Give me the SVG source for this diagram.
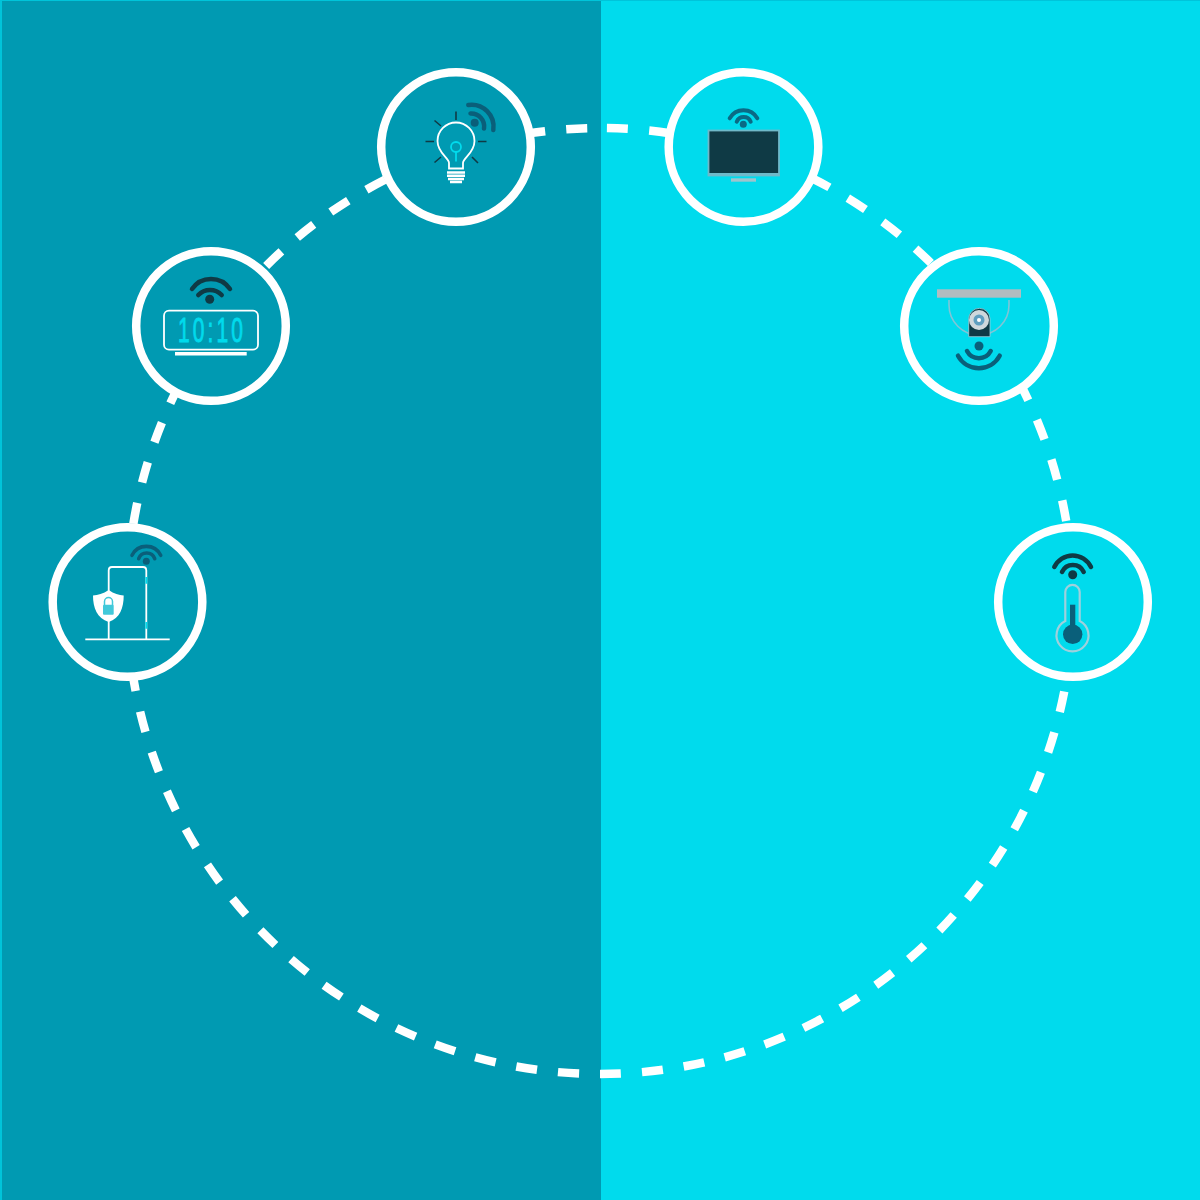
<svg xmlns="http://www.w3.org/2000/svg" width="1200" height="1200" viewBox="0 0 1200 1200">
<style>
.ring{stroke:#fff;stroke-width:8.500}
.l{fill:#009ab2}.r{fill:#00dbed}
.dash{fill:none;stroke:#fff;stroke-width:8.500}
.w{fill:none;stroke-linecap:round;stroke-width:4.500}
.wl{fill:none;stroke:#fff;stroke-width:1.800}
.ray{stroke:#0f3a45;stroke-width:1.600;fill:none}
</style>
<rect x="0" y="0" width="601" height="1200" fill="#009ab2"/>
<rect x="601" y="0" width="599" height="1200" fill="#00dbed"/>
<rect x="0" y="0" width="1200" height="1" fill="#00c4da"/>
<rect x="0" y="0" width="2" height="1200" fill="#00c4da"/>
<g id="connectors">
<path class="dash" d="M600 128A473 473 0 0 1 1073 601" stroke-dasharray="21 21.3" stroke-dashoffset="-7"/>
<path class="dash" d="M600 1074A473 473 0 0 0 1073 601" stroke-dasharray="21 21.05"/>
<path class="dash" d="M600 1074A473 473 0 0 1 600 128" stroke-dasharray="21 21.08" stroke-dashoffset="21"/>
</g>
<g id="node-bulb">
<circle class="ring l" cx="456" cy="147" r="74.800"/>
<path class="wl" d="M449 168.500V163C449 158 437.500 153 437.500 141A18.500 18.500 0 0 1 474.500 141C474.500 153 463 158 463 163V168.500Z"/>
<path stroke="#fff" stroke-width="2.500" d="M447 172.500H465M447 175.800H465M448 179H464M450 182H462"/>
<circle cx="456" cy="147" r="5" fill="none" stroke="#00dbed" stroke-width="1.800"/>
<path d="M456 152V161.500" stroke="#00dbed" stroke-width="1.800"/>
<path class="ray" d="M456 111.500V120M434.500 120.500L441 126M425.500 141.500H434M434.500 162.500L441 157M478 141.500H486.500M472 157L478 163"/>
<path class="w" stroke="#0a5f7a" d="M470.500 113.500A13 13 0 0 1 484 128.500M468.300 105A22 22 0 0 1 493.300 130"/>
<circle cx="474.700" cy="122.700" r="4" fill="#0a5f7a"/>
</g>
<g id="node-tv">
<circle class="ring r" cx="743.500" cy="147" r="74.800"/>
<rect x="708.500" y="130.500" width="70.500" height="45" fill="#0f3a45" stroke="#6fb9c9" stroke-width="1.800"/>
<rect x="708" y="173" width="71.500" height="3" fill="#6fb9c9"/>
<rect x="731" y="178.300" width="25" height="3.400" fill="#9fc4cc"/>
<circle cx="743.300" cy="124.300" r="3.500" fill="#0a6a85"/>
<path class="w" stroke="#0a6a85" style="stroke-width:4" d="M736.700 121.700A7.600 7.600 0 0 1 750.700 121.700M729.700 118.300A15.900 15.900 0 0 1 757.300 118.300"/>
</g>
<g id="node-clock">
<circle class="ring l" cx="211" cy="326" r="74.800"/>
<rect x="164" y="310.700" width="94" height="39" rx="5" fill="none" stroke="#fff" stroke-width="1.800"/>
<rect x="175" y="352" width="71.700" height="3.500" fill="#fff"/>
<text transform="translate(210.500 342.300) scale(0.6 1)" x="0" y="0" font-family="Liberation Sans, sans-serif" font-size="35" fill="#00dbed" stroke="#00dbed" stroke-width="0.900" text-anchor="middle" textLength="108" lengthAdjust="spacing">10:10</text>
<circle cx="209.700" cy="299.300" r="4.500" fill="#0f3a45"/>
<path class="w" stroke="#0f3a45" d="M198.300 295A16 16 0 0 1 221.700 295M192 289A23 23 0 0 1 230 289"/>
</g>
<g id="node-camera">
<circle class="ring r" cx="979" cy="326" r="74.800"/>
<path d="M949 300V305A30 30 0 0 0 1009 305V300" fill="none" stroke="#7fc5d6" stroke-width="1.600"/>
<rect x="937" y="289.300" width="84" height="8.400" fill="#b3bcc0"/>
<path d="M968.700 336.700V319A10.500 10.500 0 0 1 990 319V336.700Z" fill="#0f3a45" stroke="#9fd0dc" stroke-width="0.800"/>
<circle cx="979" cy="320" r="10" fill="#cfd8dc"/>
<circle cx="979" cy="320" r="5.500" fill="#5f9fc0"/>
<circle cx="979" cy="320" r="2" fill="#fff"/>
<circle cx="979" cy="346" r="4.500" fill="#0a5f7a"/>
<path class="w" stroke="#0a5f7a" d="M967 351A13.400 13.400 0 0 0 990.700 351M958 355.700A23.700 23.700 0 0 0 999.700 355.700"/>
</g>
<g id="node-lock">
<circle class="ring l" cx="127.500" cy="602" r="74.800"/>
<path class="wl" d="M85.300 639.300H169.700M108.700 639.300V570.500Q108.700 567 112 567H143Q146.300 567 146.300 570.500V639.300"/>
<path d="M146.300 577V583.700M146.300 622V628.700" stroke="#00dbed" stroke-width="1.800"/>
<path d="M108.700 590C103 594 98 595 93 595.500C93 608 97 618 108.700 622C120 618 123.700 608 123.700 595.500C119 595 114 594 108.700 590Z" fill="#fff"/>
<path d="M104.500 605V601.500A4 4 0 0 1 112.500 601.500V605" fill="none" stroke="#41c9da" stroke-width="1.500"/>
<rect x="103" y="604.700" width="10.700" height="10" rx="1" fill="#41c9da"/>
<circle cx="146.300" cy="561.300" r="3.500" fill="#0a5f7a"/>
<path class="w" stroke="#0a5f7a" style="stroke-width:3.600" d="M138.700 558.700A8.500 8.500 0 0 1 154.700 558.700M132 555.300A16 16 0 0 1 160.700 555.300"/>
</g>
<g id="node-thermo">
<circle class="ring r" cx="1073" cy="602" r="74.800"/>
<path d="M1065.300 621V592A7.200 7.200 0 0 1 1079.700 592V621A16 16 0 1 1 1065.300 621Z" fill="none" stroke="#9fd0dc" stroke-width="2.200"/>
<rect x="1070" y="604.700" width="5.300" height="22" fill="#0a5f7a"/>
<circle cx="1072.700" cy="634.300" r="9.700" fill="#0a5f7a"/>
<circle cx="1072.700" cy="574.700" r="4.500" fill="#0f3a45"/>
<path class="w" stroke="#0f3a45" d="M1062 572A11.900 11.900 0 0 1 1083.700 572M1054.300 567A20.300 20.300 0 0 1 1091 567"/>
</g>
</svg>
